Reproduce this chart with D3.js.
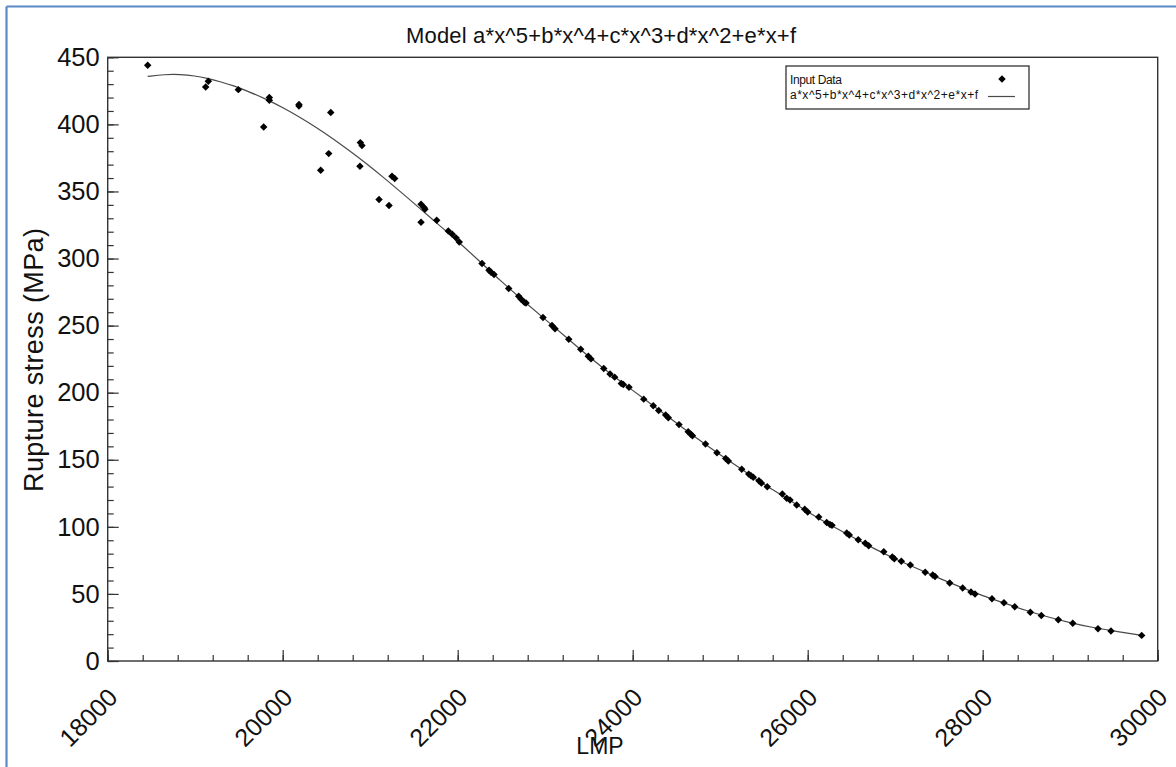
<!DOCTYPE html>
<html lang="en">
<head>
    <meta charset="UTF-8">
    <title>Model fit</title>
    <script type="text/javascript" src="https://cdn.jsdelivr.net/npm/d3@7/dist/d3.min.js"></script>
    <style>
        body{margin:0;background:#fff;}
        text{font-family:"Liberation Sans",Arial,sans-serif;fill:#111;}
    </style>
</head>
<body>
    <svg></svg>
    <script>
        //input data
        var lmpData = [18457,19120,19150,19493,19783,19847,19847,20186,20186,20434,20526,20549,20883,20887,20906,
            21101,21215,21249,21280,21581,21581,21615,21626,21760,21893,21938,21981,22018,22278,22358,22381,22415,
            22583,22697,22723,22761,22781,22975,23078,23112,23269,23406,23493,23523,23669,23741,23794,23870,23893,
            23958,24126,24235,24297,24377,24407,24529,24634,24664,24683,24832,24963,25063,25093,25246,25326,25352,
            25378,25443,25470,25538,25710,25760,25798,25874,25966,26000,26126,26217,26255,26278,26446,26475,26578,
            26658,26697,26869,26967,26990,27070,27173,27343,27429,27455,27623,27771,27866,27912,28106,28243,28366,
            28544,28670,28864,29029,29318,29466,29817];
        var stressData = [444.0,427.9,432.1,425.9,398.1,420.0,418.0,414.8,413.7,365.8,378.2,408.8,368.8,386.4,384.2,
            344.0,339.5,361.3,359.6,327.1,340.5,338.0,336.7,328.6,320.6,318.1,315.4,312.4,296.3,291.3,289.8,288.1,
            277.7,271.9,269.9,267.5,266.9,256.1,250.1,247.6,239.9,232.4,227.2,225.2,218.1,214.0,211.6,206.9,206.1,
            204.1,195.2,190.2,186.8,183.3,181.3,176.2,170.8,169.0,167.9,161.7,155.2,151.0,149.0,143.0,139.3,138.1,
            136.9,134.3,132.6,129.9,124.4,121.4,120.0,116.2,113.2,111.0,107.3,103.3,101.8,101.1,95.4,93.9,90.4,
            87.7,85.9,81.4,77.5,76.2,74.3,71.5,66.2,64.1,63.0,58.1,54.4,51.4,49.9,46.4,43.4,40.5,
            36.3,34.0,30.8,28.1,24.1,22.4,19.1];

        //fitted curve
        var fitLmp = [18457,18650,18826,19000,19131,19300,19435,19600,19817,20000,20198,20400,20578,20800,20960,
            21150,21341,21550,21721,21900,22000,22250,22500,22750,23000,23250,23500,23750,24000,24250,24500,24750,
            25000,25250,25500,25750,26000,26250,26500,26750,27000,27250,27500,27750,28000,28250,28500,28750,29000,
            29250,29500,29817];
        var fitStress = [435.8,437.2,437.3,436.2,434.4,431.6,428.9,424.8,418.6,412.6,405.3,397.1,389.2,378.6,370.6,
            360.6,350.1,338.4,328.6,318.6,313.0,298.0,282.8,268.5,254.6,240.8,226.8,213.7,201.8,189.4,177.6,165.1,
            153.6,142.8,131.4,121.9,111.1,101.6,92.8,84.0,76.1,68.9,61.7,55.0,48.5,43.2,37.5,32.7,28.5,
            25.0,22.3,19.1];

        var xTicks = [18000,20000,22000,24000,26000,28000,30000];
        var yTicks = [0,50,100,150,200,250,300,350,400,450];

        var titleText = "Model a*x^5+b*x^4+c*x^3+d*x^2+e*x+f";
        var legendNames = ["Input Data","a*x^5+b*x^4+c*x^3+d*x^2+e*x+f"];

        var W = 1176, H = 767;
        var svg = d3.select("svg").attr("width",W).attr("height",H);

        //outer blue frame (only top and left are in view)
        svg.append("line").attr("x1",6.5).attr("y1",6.5).attr("x2",W).attr("y2",6.5)
            .attr("stroke","#5a8ac6").attr("stroke-width",2.2);
        svg.append("line").attr("x1",6.5).attr("y1",6.5).attr("x2",6.5).attr("y2",H)
            .attr("stroke","#5a8ac6").attr("stroke-width",2.2);

        var x = d3.scaleLinear().domain([18000,30000]).range([107.7,1157.7]);
        var y = d3.scaleLinear().domain([0,450]).range([661,57.3]);

        //plot box
        svg.append("rect")
            .attr("x",x(18000)).attr("y",y(450))
            .attr("width",x(30000)-x(18000)).attr("height",y(0)-y(450))
            .attr("fill","none").attr("stroke","#333").attr("stroke-width",1.4);

        //minor ticks
        svg.append("g").attr("transform","translate("+x(18000)+",0)")
            .call(d3.axisLeft(y).tickValues(d3.range(0,451,10)).tickSize(-6).tickFormat(""))
            .call(g=>g.select(".domain").remove())
            .selectAll("line").attr("stroke","#333").attr("stroke-width",1.2);
        svg.append("g").attr("transform","translate(0,"+y(0)+")")
            .call(d3.axisBottom(x).tickValues(d3.range(18000,30001,400)).tickSize(-6).tickFormat(""))
            .call(g=>g.select(".domain").remove())
            .selectAll("line").attr("stroke","#333").attr("stroke-width",1.2);

        //major ticks + labels
        var yAxis = svg.append("g").attr("transform","translate("+x(18000)+",0)")
            .call(d3.axisLeft(y).tickValues(yTicks).tickSize(-11).tickPadding(8).tickFormat(d3.format("d")));
        yAxis.select(".domain").remove();
        yAxis.selectAll("line").attr("stroke","#333").attr("stroke-width",1.2);
        yAxis.selectAll("text").attr("font-size",25.5).attr("fill","#111")
            .style("font-family","'Liberation Sans',Arial,sans-serif");

        var xAxis = svg.append("g").attr("transform","translate(0,"+y(0)+")")
            .call(d3.axisBottom(x).tickValues(xTicks).tickSize(-11).tickFormat(d3.format("d")));
        xAxis.select(".domain").remove();
        xAxis.selectAll("line").attr("stroke","#333").attr("stroke-width",1.2);
        xAxis.selectAll("text")
            .attr("x",0).attr("y",0).attr("dy",0)
            .attr("text-anchor","end")
            .attr("transform","translate(11,38) rotate(-45)")
            .attr("font-size",25).attr("fill","#111")
            .style("font-family","'Liberation Sans',Arial,sans-serif");

        //titles
        svg.append("text").attr("x",601).attr("y",43).attr("text-anchor","middle")
            .attr("font-size",22).attr("textLength",390).text(titleText);
        svg.append("text").attr("x",600).attr("y",754).attr("text-anchor","middle")
            .attr("font-size",23).text("LMP");
        svg.append("text").attr("transform","translate(43,360) rotate(-90)")
            .attr("text-anchor","middle").attr("font-size",27).attr("textLength",264).text("Rupture stress (MPa)");

        //fitted curve
        var line = d3.line().x(function(d,i){return x(fitLmp[i]);}).y(function(d){return y(d);})
            .curve(d3.curveBasis);
        svg.append("path").datum(fitStress)
            .attr("d",line).attr("fill","none").attr("stroke","#4a4a4a").attr("stroke-width",1.2);

        //data points as diamonds
        var diamond = d3.symbol().type(d3.symbolSquare).size(28);
        svg.append("g").selectAll("path")
            .data(stressData)
            .enter()
            .append("path")
            .attr("d",diamond)
            .attr("transform",function(d,i){return "translate("+x(lmpData[i])+","+y(d)+") rotate(45)";})
            .attr("fill","#000");

        //legend
        var lg = svg.append("g").attr("transform","translate(786,66)");
        lg.append("rect").attr("width",243).attr("height",43)
            .attr("fill","#fff").attr("stroke","#333").attr("stroke-width",1.3);
        lg.append("text").attr("x",4).attr("y",18).attr("font-size",12).attr("textLength",52).text(legendNames[0]);
        lg.append("text").attr("x",4).attr("y",33).attr("font-size",12).attr("textLength",188).text(legendNames[1]);
        lg.append("path").attr("d",diamond).attr("transform","translate(216,13) rotate(45)").attr("fill","#000");
        lg.append("line").attr("x1",202).attr("x2",229).attr("y1",30.5).attr("y2",30.5)
            .attr("stroke","#4a4a4a").attr("stroke-width",1.2);
    </script>
</body>
</html>
